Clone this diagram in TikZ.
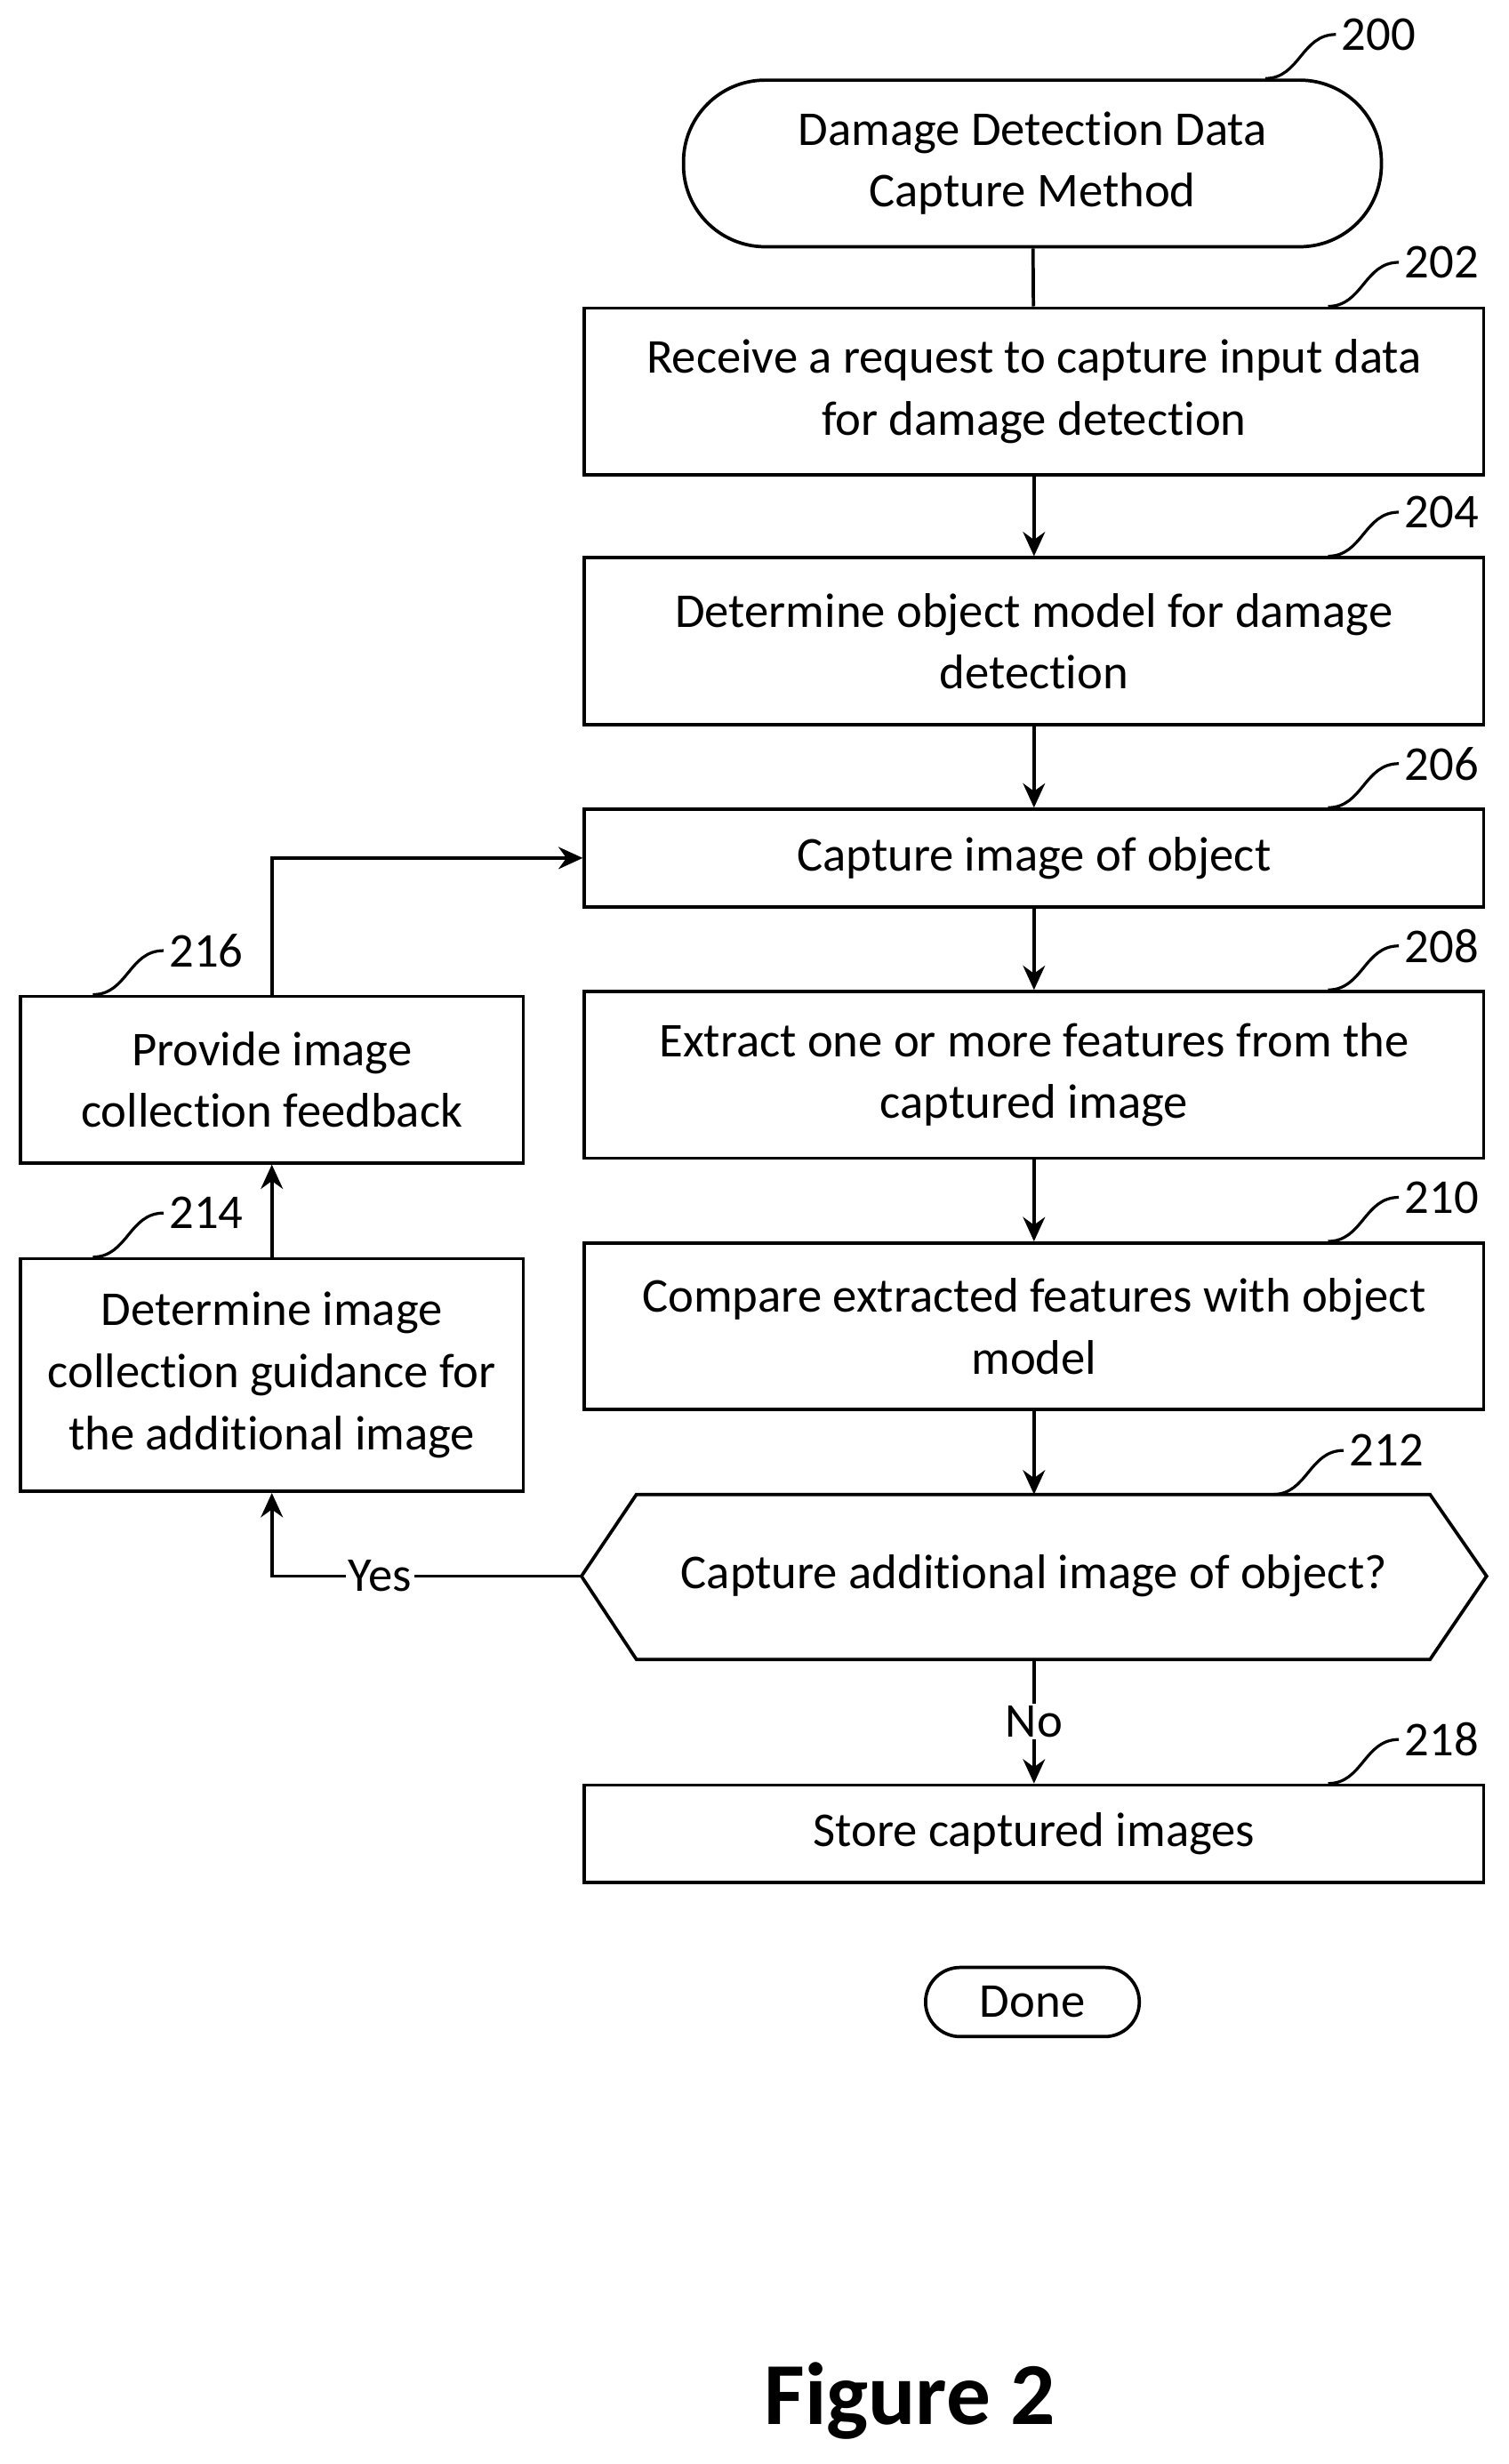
\documentclass[tikz,border=0pt]{standalone}
\usepackage{fontspec}
\setmainfont{Carlito}[Ligatures=NoCommon]
\usetikzlibrary{positioning,arrows.meta,calc}
\tikzset{
  box/.style={draw, line width=1.5pt, minimum width=14.3cm, minimum height=2.65cm, align=center, font=\fontsize{22}{28}\selectfont},
  sbox/.style={box, minimum width=8cm},
  flow/.style={line width=1.5pt, -{Stealth[length=11pt,width=10pt]}},
  lead/.style={line width=1.3pt},
  num/.style={font=\fontsize{22}{26}\selectfont, anchor=west, inner sep=2pt}
}
% leader line with reference number
\newcommand{\refnum}[3]{%
  \draw[lead] ($(#1.north east)+(#3,0)$) .. controls +(22,0) and +(-22,0) .. ++(45,-28) node[num] {#2};}
\begin{document}
\begin{tikzpicture}[x=0.025cm,y=-0.025cm]
  \useasboundingbox (0,0) rectangle (960,1568);
  % start terminal
  \node[box, rounded corners=1.3cm, minimum width=11.1cm] (start) at (657,104) {Damage Detection Data\\Capture Method};
  % process steps
  \node[box] (recv) at (658,249) {Receive a request to capture input data\\for damage detection};
  \node[box] (model) at (658,408) {Determine object model for damage\\detection};
  \node[box, minimum height=1.55cm] (capt) at (658,546) {Capture image of object};
  \node[box] (extr) at (658,684) {Extract one or more features from the\\captured image};
  \node[box] (comp) at (658,844) {Compare extracted features with object\\model};
  % decision
  \node[font=\fontsize{22}{28}\selectfont, minimum width=13.5cm, minimum height=2.6cm] (ask) at (658,1003) {Capture additional image of object?};
  \draw[line width=1.5pt] (370,1003) -- (405,951) -- (910,951) -- (946,1003) -- (910,1056) -- (405,1056) -- cycle;
  \node[box, minimum height=1.55cm] (store) at (658,1167) {Store captured images};
  \node[box, rounded corners=0.55cm, minimum width=3.4cm, minimum height=1.1cm] (done) at (657,1274) {Done};
  % left column
  \node[sbox, minimum height=3.7cm] (guide) at (173,875) {Determine image\\collection guidance for\\the additional image};
  \node[sbox] (feed) at (173,687) {Provide image\\collection feedback};
  % connectors
  \draw[line width=1.5pt] (start) -- (recv);
  \draw[flow] (recv) -- (model);
  \draw[flow] (model) -- (capt);
  \draw[flow] (capt) -- (extr);
  \draw[flow] (extr) -- (comp);
  \draw[flow] (comp) -- (658,951);
  \draw[flow] (658,1056) -- node[fill=white, font=\fontsize{22}{26}\selectfont, inner sep=1pt] {No} (store);
  \draw[flow] (370,1003) -- node[fill=white, font=\fontsize{22}{26}\selectfont, inner sep=1pt, pos=0.65] {Yes} (173,1003) -- (guide);
  \draw[flow] (guide) -- (feed);
  \draw[flow] (feed.north) |- (capt.west);
  % reference numbers
  \refnum{start}{200}{-75}
  \refnum{recv}{202}{-100}
  \refnum{model}{204}{-100}
  \refnum{capt}{206}{-100}
  \refnum{extr}{208}{-100}
  \refnum{comp}{210}{-100}
  \draw[lead] (810,951) .. controls +(22,0) and +(-22,0) .. ++(45,-28) node[num] {212};
  \refnum{store}{218}{-100}
  \refnum{feed}{216}{-275}
  \refnum{guide}{214}{-275}
  % caption
  \node[font=\fontsize{40}{48}\selectfont\bfseries] (fig) at (579,1528) {Figure 2};
\end{tikzpicture}
\end{document}
